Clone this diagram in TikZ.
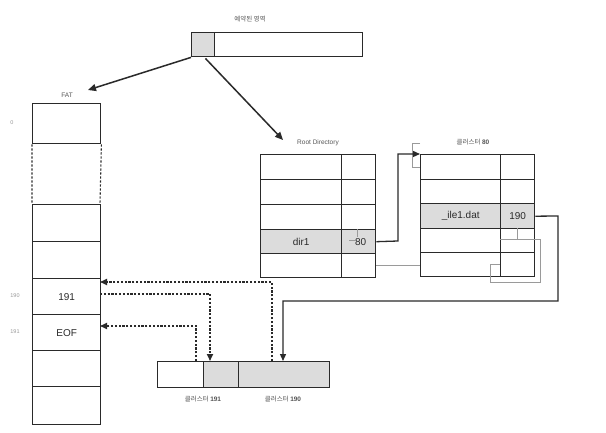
\documentclass[tikz,border=0pt]{standalone}
\usepackage{fontspec}
\setmainfont{Liberation Sans}
\newfontfamily\kr{Noto Sans CJK KR}
\usetikzlibrary{arrows.meta}
\definecolor{cellgray}{HTML}{DCDCDC}
\definecolor{ink}{HTML}{2A2A2A}
\definecolor{faint}{HTML}{9A9A9A}
\tikzset{
  cell/.style={draw=ink, line width=1.4pt, inner sep=0pt, anchor=north west, font=\fontsize{10}{12}\selectfont, text=ink},
  shade/.style={fill=cellgray},
  lbl/.style={font=\fontsize{6.5}{8}\selectfont, text=ink!80},
  idx/.style={font=\fontsize{5.5}{7}\selectfont, text=faint},
  arr/.style={draw=ink, line width=1.5pt, -{Triangle[length=8pt,width=7pt]}},
  link/.style={draw=ink, line width=1.3pt, -{Triangle[length=7pt,width=6pt]}},
  dotarr/.style={draw=ink, line width=1.6pt, dash pattern=on 2.2pt off 1.6pt, -{Triangle[length=7pt,width=6pt]}},
  thin/.style={draw=faint, line width=0.5pt},
}
\newcommand{\cellbox}[7]{\node[cell,#6, minimum width=#4pt, minimum height=#5pt] (#1) at (#2,#3) {#7};}
\begin{document}
\begin{tikzpicture}[x=1pt,y=-1pt]
\path[use as bounding box, fill=white] (0,0) rectangle (606,433);

% reserved area
\node[lbl] (reslbl) at (250,19) {\kr 예약된 영역};
\cellbox{res1}{191}{32}{23}{24}{shade}{}
\cellbox{res2}{214}{32}{148}{24}{}{}

% FAT
\node[lbl] (fatlbl) at (67,95) {FAT};
\cellbox{f0}{32}{103}{68}{40}{}{}
\draw[draw=ink, line width=1.1pt, dash pattern=on 2.2pt off 1.8pt] (f0.south west) -- (32,204) (f0.south east) -- (100,204);
\cellbox{f1}{32}{204}{68}{37}{}{}
\cellbox{f2}{32}{241}{68}{37}{}{}
\cellbox{f3}{32}{278}{68}{36}{}{191}
\cellbox{f4}{32}{314}{68}{36}{}{EOF}
\cellbox{f5}{32}{350}{68}{36}{}{}
\cellbox{f6}{32}{386}{68}{38}{}{}
\node[idx] (i0) at (12,123) {0};
\node[idx] (i190) at (15,296) {190};
\node[idx] (i191) at (15,332) {191};

% Root directory
\node[lbl] (rootlbl) at (318,143) {Root Directory};
\cellbox{r1a}{260}{154}{81}{25}{}{}
\cellbox{r1b}{341}{154}{34}{25}{}{}
\cellbox{r2a}{260}{179}{81}{25}{}{}
\cellbox{r2b}{341}{179}{34}{25}{}{}
\cellbox{r3a}{260}{204}{81}{25}{}{}
\cellbox{r3b}{341}{204}{34}{25}{}{}
\cellbox{r4a}{260}{229}{81}{24}{shade}{dir1}
\cellbox{r4b}{341}{229}{34}{24}{shade}{\hspace*{4pt}80}
\cellbox{r5a}{260}{253}{81}{24}{}{}
\cellbox{r5b}{341}{253}{34}{24}{}{}

% Cluster 80
\node[lbl] (c80lbl) at (473,142) {\kr 클러스터 \textbf{\fontspec{Liberation Sans}80}};
\cellbox{c1a}{420}{154}{80}{25}{}{}
\cellbox{c1b}{500}{154}{34}{25}{}{}
\cellbox{c2a}{420}{179}{80}{24}{}{}
\cellbox{c2b}{500}{179}{34}{24}{}{}
\cellbox{c3a}{420}{203}{80}{25}{shade}{\_ile1.dat}
\cellbox{c3b}{500}{203}{34}{25}{shade}{190}
\cellbox{c4a}{420}{228}{80}{24}{}{}
\cellbox{c4b}{500}{228}{34}{24}{}{}
\cellbox{c5a}{420}{252}{80}{24}{}{}
\cellbox{c5b}{500}{252}{34}{24}{}{}

% bottom clusters
\cellbox{b1}{157}{361}{46}{26}{}{}
\cellbox{b2}{203}{361}{35}{26}{shade}{}
\cellbox{b3}{238}{361}{91}{26}{shade}{}
\node[lbl] (b191lbl) at (203,399) {\kr 클러스터 \textbf{\fontspec{Liberation Sans}191}};
\node[lbl] (b190lbl) at (283,399) {\kr 클러스터 \textbf{\fontspec{Liberation Sans}190}};

% faint leftover callout lines
\draw[thin] (357,229) -- (357,237) (349,240) -- (356,240);
\draw[thin] (420,143) -- (412,143) -- (412,167) -- (420,167);
\draw[thin] (r5b.east) -- (r5b.east -| c5a.west);
\draw[thin] (500,239) -- (517,239) -- (517,228);
\draw[thin] (500,264) -- (490,264) -- (490,282) -- (540,282) -- (540,239) -- (517,239);

% top arrows
\coordinate (fattip) at (88,90);
\coordinate (roottip) at (283,140);
\draw[arr] (res1.south west) -- (fattip);
\draw[arr] (res1.south east) ++(-10,1) -- (roottip);

% dir1 -> cluster 80
\draw[link] (r4b.east) -- (398,241) -- (398,154) -- (c1a.north west);

% 190 -> cluster 190
\coordinate (c190in) at (283,361);
\draw[link] (c3b.east) -- (558,216) -- (558,301) -- (283,301) -- (c190in);

% FAT chains (dotted)
\coordinate (d1s) at (272,361);
\coordinate (d1e) at (100,282);
\draw[dotarr] (d1s) |- (d1e);
\coordinate (d2s) at (100,294);
\coordinate (d2e) at (210,361);
\draw[dotarr] (d2s) -| (d2e);
\coordinate (d3s) at (196,361);
\coordinate (d3e) at (100,326);
\draw[dotarr] (d3s) |- (d3e);
\end{tikzpicture}
\end{document}
